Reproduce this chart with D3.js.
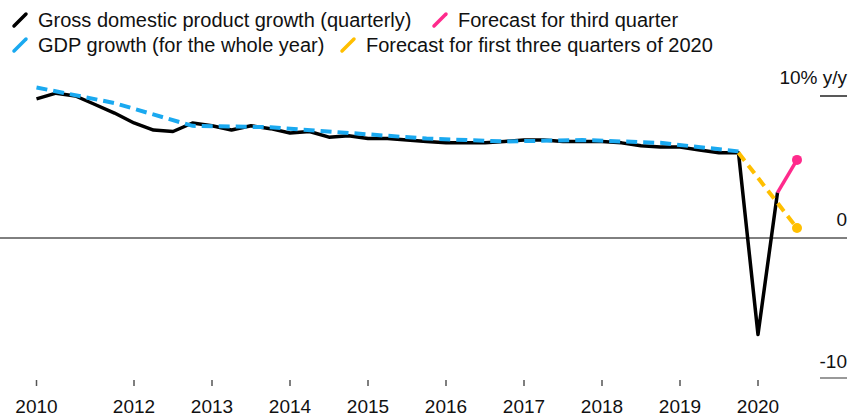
<!DOCTYPE html>
<html>
<head>
<meta charset="utf-8">
<script src="https://cdn.jsdelivr.net/npm/d3@7"></script>
<style>
  body { margin: 0; background: #fff; }
  svg { display: block; font-family: "Liberation Sans", Arial, sans-serif; }
</style>
</head>
<body>
<script>
// quarterly GDP growth, y/y %
var quarters = ["2010Q4",
  "2011Q1", "2011Q2", "2011Q3", "2011Q4",
  "2012Q1", "2012Q2", "2012Q3", "2012Q4",
  "2013Q1", "2013Q2", "2013Q3", "2013Q4",
  "2014Q1", "2014Q2", "2014Q3", "2014Q4",
  "2015Q1", "2015Q2", "2015Q3", "2015Q4",
  "2016Q1", "2016Q2", "2016Q3", "2016Q4",
  "2017Q1", "2017Q2", "2017Q3", "2017Q4",
  "2018Q1", "2018Q2", "2018Q3", "2018Q4",
  "2019Q1", "2019Q2", "2019Q3", "2019Q4",
  "2020Q1", "2020Q2"];
var quarterly = [9.8,
  10.2, 10.0, 9.4, 8.8,
  8.1, 7.6, 7.5, 8.1,
  7.9, 7.6, 7.9, 7.7,
  7.4, 7.5, 7.1, 7.2,
  7.0, 7.0, 6.9, 6.8,
  6.7, 6.7, 6.7, 6.8,
  6.9, 6.9, 6.8, 6.8,
  6.8, 6.7, 6.5, 6.4,
  6.4, 6.2, 6.0, 6.0,
  -6.8, 3.2];

// whole-year growth, plotted at the fourth quarter
var yearQuarters = ["2010Q4", "2011Q4", "2012Q4", "2013Q4", "2014Q4", "2015Q4",
  "2016Q4", "2017Q4", "2018Q4", "2019Q4"];
var yearly = [10.6, 9.5, 7.9, 7.8, 7.4, 7.0, 6.8, 6.9, 6.7, 6.1];

var thirdQuarters = ["2020Q2", "2020Q3"];
var thirdForecast = [3.2, 5.5];

var firstThreeQuarters = ["2019Q4", "2020Q3"];
var firstThreeForecast = [6.0, 0.7];

var tickQuarters = ["2010Q4", "2012Q1", "2013Q1", "2014Q1", "2015Q1", "2016Q1",
  "2017Q1", "2018Q1", "2019Q1", "2020Q1"];
var tickLabels = ["2010", "2012", "2013", "2014", "2015", "2016",
  "2017", "2018", "2019", "2020"];

var legendLabels = ["Gross domestic product growth (quarterly)", "Forecast for third quarter",
  "GDP growth (for the whole year)", "Forecast for first three quarters of 2020"];

var colors = { black: "#000", blue: "#1aa9f0", pink: "#ff2a8c", yellow: "#ffbf00" };

var width = 864, height = 416;

// "2012Q3" -> 2012.5
function qnum(s) {
  return +s.slice(0, 4) + (+s.slice(5) - 1) / 4;
}
function pairs(keys, vals) {
  return keys.map(function(k, i) { return { t: qnum(k), v: vals[i] }; });
}

var x = d3.scaleLinear()
    .domain([2012, 2020])
    .range([134, 758]);
var y = d3.scaleLinear()
    .domain([-10, 10])
    .range([380, 96]);

var svg = d3.select("body").append("svg")
    .attr("width", width)
    .attr("height", height);

// zero line + small tick lines on the right
svg.append("line")
    .attr("x1", 0).attr("x2", 847)
    .attr("y1", y(0)).attr("y2", y(0))
    .attr("stroke", "#000").attr("stroke-width", 1);
svg.append("line")
    .attr("x1", 820).attr("x2", 847)
    .attr("y1", y(10)).attr("y2", y(10))
    .attr("stroke", "#222").attr("stroke-width", 1.5);
svg.append("line")
    .attr("x1", 820).attr("x2", 847)
    .attr("y1", y(-10) - 2).attr("y2", y(-10) - 2)
    .attr("stroke", "#999").attr("stroke-width", 2);

var yLabels = [{ v: 10, t: "10% y/y" }, { v: 0, t: "0" }, { v: -10, t: "-10" }];
svg.selectAll(".ylab")
    .data(yLabels)
    .enter().append("text")
    .attr("class", "ylab")
    .attr("x", 847)
    .attr("y", function(d) { return y(d.v) - 12; })
    .attr("text-anchor", "end")
    .attr("font-size", 19)
    .attr("fill", "#111")
    .text(function(d) { return d.t; });

// x axis: tick marks and labels
var xAxis = svg.append("g").attr("class", "x axis");
xAxis.selectAll("line")
    .data(tickQuarters)
    .enter().append("line")
    .attr("x1", function(d) { return x(qnum(d)); })
    .attr("x2", function(d) { return x(qnum(d)); })
    .attr("y1", 380).attr("y2", 386)
    .attr("stroke", "#555").attr("stroke-width", 1.5);
xAxis.selectAll("text")
    .data(tickQuarters)
    .enter().append("text")
    .attr("x", function(d) { return x(qnum(d)); })
    .attr("y", 413)
    .attr("text-anchor", "middle")
    .attr("font-size", 19)
    .attr("fill", "#111")
    .text(function(d, i) { return tickLabels[i]; });

var line = d3.line()
    .x(function(d) { return x(d.t); })
    .y(function(d) { return y(d.v); });

svg.append("path")
    .datum(pairs(quarters, quarterly))
    .attr("d", line)
    .attr("fill", "none")
    .attr("stroke", colors.black)
    .attr("stroke-width", 3.5)
    .attr("stroke-linejoin", "round");

svg.append("path")
    .datum(pairs(yearQuarters, yearly))
    .attr("d", line)
    .attr("fill", "none")
    .attr("stroke", colors.blue)
    .attr("stroke-width", 4)
    .attr("stroke-dasharray", "11,6");

var yellowData = pairs(firstThreeQuarters, firstThreeForecast);
svg.append("path")
    .datum(yellowData)
    .attr("d", line)
    .attr("fill", "none")
    .attr("stroke", colors.yellow)
    .attr("stroke-width", 4)
    .attr("stroke-dasharray", "10,6");
svg.append("circle")
    .attr("cx", x(yellowData[1].t))
    .attr("cy", y(yellowData[1].v))
    .attr("r", 5)
    .attr("fill", colors.yellow);

var pinkData = pairs(thirdQuarters, thirdForecast);
svg.append("path")
    .datum(pinkData)
    .attr("d", line)
    .attr("fill", "none")
    .attr("stroke", colors.pink)
    .attr("stroke-width", 3.5);
svg.append("circle")
    .attr("cx", x(pinkData[1].t))
    .attr("cy", y(pinkData[1].v))
    .attr("r", 5)
    .attr("fill", colors.pink);

// legend, two rows
var legend = [
  { label: legendLabels[0], color: colors.black, x: 13, y: 27 },
  { label: legendLabels[1], color: colors.pink, x: 433, y: 27 },
  { label: legendLabels[2], color: colors.blue, x: 13, y: 52 },
  { label: legendLabels[3], color: colors.yellow, x: 341, y: 52 }
];
var lg = svg.selectAll(".legend")
    .data(legend)
    .enter().append("g")
    .attr("class", "legend")
    .attr("transform", function(d) { return "translate(" + d.x + "," + d.y + ")"; });
lg.append("line")
    .attr("x1", 1).attr("y1", -1)
    .attr("x2", 13).attr("y2", -13)
    .attr("stroke", function(d) { return d.color; })
    .attr("stroke-width", 3.5)
    .attr("stroke-linecap", "round");
lg.append("text")
    .attr("x", 25)
    .attr("font-size", 20)
    .attr("fill", "#111")
    .text(function(d) { return d.label; });
</script>
</body>
</html>
